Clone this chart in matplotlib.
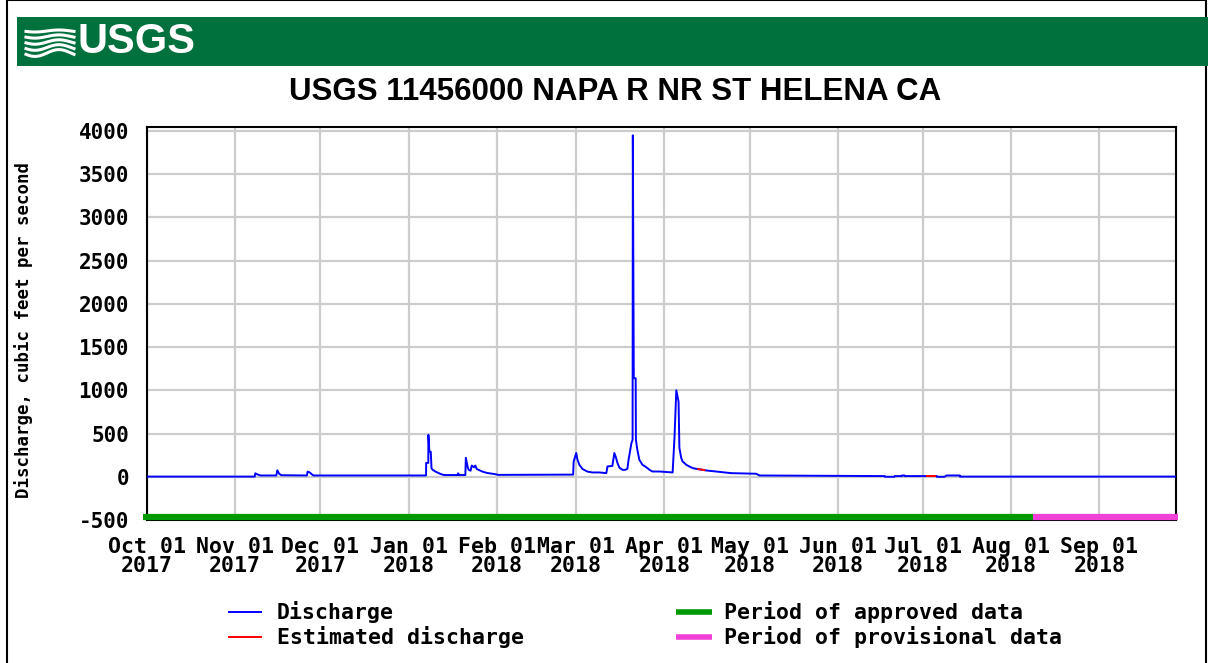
import numpy as np
import pandas as pd
import matplotlib
matplotlib.use('Agg')
import matplotlib.pyplot as plt
from matplotlib.patches import Rectangle
from matplotlib.lines import Line2D

station_title = 'USGS 11456000 NAPA R NR ST HELENA CA'
y_label = 'Discharge, cubic feet per second'

flow_times = [
    '2017-10-01 00:00', '2017-11-07 22:00', '2017-11-08 02:00', '2017-11-09 00:00',
    '2017-11-10 00:00', '2017-11-15 12:00', '2017-11-15 20:00', '2017-11-16 12:00',
    '2017-11-17 06:00', '2017-11-26 06:00', '2017-11-26 12:00', '2017-11-27 06:00',
    '2017-11-27 18:00', '2017-11-28 12:00', '2018-01-07 04:00', '2018-01-07 05:00',
    '2018-01-07 23:00', '2018-01-08 00:00', '2018-01-08 08:00', '2018-01-08 20:00',
    '2018-01-09 02:00', '2018-01-09 12:00', '2018-01-10 18:00', '2018-01-12 12:00',
    '2018-01-13 12:00', '2018-01-18 06:00', '2018-01-18 12:00', '2018-01-18 18:00',
    '2018-01-21 00:00', '2018-01-21 04:00', '2018-01-21 20:00', '2018-01-22 04:00',
    '2018-01-22 20:00', '2018-01-23 06:00', '2018-01-24 00:00', '2018-01-24 12:00',
    '2018-01-25 00:00', '2018-01-26 00:00', '2018-01-27 00:00', '2018-01-28 12:00',
    '2018-01-31 12:00', '2018-02-01 12:00', '2018-02-27 22:00', '2018-02-28 02:00',
    '2018-03-01 00:00', '2018-03-01 10:00', '2018-03-02 02:00', '2018-03-03 05:00',
    '2018-03-04 22:00', '2018-03-06 17:00', '2018-03-09 05:00', '2018-03-11 14:00',
    '2018-03-12 00:00', '2018-03-13 17:00', '2018-03-14 10:00', '2018-03-15 00:00',
    '2018-03-15 12:00', '2018-03-16 05:00', '2018-03-17 07:00', '2018-03-18 06:00',
    '2018-03-19 00:00', '2018-03-19 10:00', '2018-03-20 10:00', '2018-03-20 20:00',
    '2018-03-20 22:00', '2018-03-21 06:00', '2018-03-21 22:00', '2018-03-22 00:00',
    '2018-03-22 12:00', '2018-03-23 05:00', '2018-03-24 07:00', '2018-03-25 14:00',
    '2018-03-26 19:00', '2018-03-27 19:00', '2018-03-30 07:00', '2018-04-03 22:00',
    '2018-04-04 14:00', '2018-04-05 05:00', '2018-04-06 00:00', '2018-04-06 07:00',
    '2018-04-06 22:00', '2018-04-07 10:00', '2018-04-08 17:00', '2018-04-09 19:00',
    '2018-04-11 00:00', '2018-04-12 17:00', '2018-04-14 10:00', '2018-04-15 17:00',
    '2018-04-19 05:00', '2018-04-24 12:00', '2018-05-03 07:00', '2018-05-04 12:00',
    '2018-06-17 12:00', '2018-06-17 14:00', '2018-06-21 00:00', '2018-06-21 02:00',
    '2018-06-23 12:00', '2018-06-23 14:00', '2018-06-24 12:00', '2018-06-24 14:00',
    '2018-07-05 19:00', '2018-07-05 21:00', '2018-07-08 14:00', '2018-07-09 07:00',
    '2018-07-13 22:00', '2018-07-14 00:00', '2018-09-28 12:00',
]
flow_cfs = [
    2, 2, 40, 25,
    15, 15, 75, 35,
    18, 15, 60, 50,
    35, 15, 15, 160,
    160, 485, 290, 290,
    100, 80, 55, 30,
    20, 20, 40, 20,
    20, 220, 110, 80,
    70, 130, 110, 130,
    90, 75, 60, 45,
    30, 22, 25, 175,
    275, 200, 140, 90,
    60, 50, 50, 42,
    120, 125, 275, 220,
    160, 105, 80, 80,
    92, 196, 390, 427,
    3950, 1140, 1140, 427,
    312, 196, 139, 112,
    80, 61, 61, 50,
    465, 1000, 870, 335,
    220, 177, 139, 119,
    100, 89, 81, 73,
    61, 42, 35, 15,
    8, 0, 0, 8,
    8, 15, 15, 8,
    8, 0, 0, 15,
    15, 2, 2,
]

# estimated discharge segments
est1_times = ['2018-04-12 22:00', '2018-04-14 10:00', '2018-04-15 02:00']
est1_cfs = [88, 81, 77]
est2_times = ['2018-07-02 07:00', '2018-07-05 02:00']
est2_cfs = [8, 8]

# approval periods
approved_span = ['2017-09-29 18:00', '2018-08-08 14:00']
provisional_span = ['2018-08-08 14:00', '2018-09-28 17:00']
period_level = -460

x_range = ['2017-10-01 00:00', '2018-09-28 00:00']
y_range = [-500, 4046]
y_ticks = [-500, 0, 500, 1000, 1500, 2000, 2500, 3000, 3500, 4000]
month_starts = pd.date_range('2017-10-01', '2018-09-01', freq='MS')

# --- figure ---
W, H = 1208, 663
fig = plt.figure(figsize=(W / 100, H / 100), dpi=100)
mono = 'DejaVu Sans Mono'


def fx(x):
    return x / W


def fy(y):
    return 1 - y / H


# outer frame and banner
fig.patches.append(Rectangle((fx(7), fy(700)), fx(1199), 700 / H, transform=fig.transFigure,
                             fill=False, edgecolor='black', lw=1.5))
fig.patches.append(Rectangle((fx(17), fy(66)), fx(1208 - 17), 49 / H, transform=fig.transFigure,
                             facecolor='#00703C', edgecolor='none'))

# wave icon of the logo
xs = np.linspace(26, 74, 60)
for i in range(5):
    amp = 1.0 + 0.6 * i
    ys = 31 + i * 5.5 + amp * np.sin((xs - 26) / 48 * 2 * np.pi + 0.4)
    fig.lines.append(Line2D(fx(xs), fy(ys), transform=fig.transFigure, color='white', lw=2.2))
fig.text(fx(77), fy(42), 'USGS', color='white', fontsize=30, fontweight='bold',
         family='Liberation Sans', ha='left', va='center')

fig.text(fx(615), fy(92), station_title, fontsize=22.5, fontweight='bold',
         family='Liberation Sans', ha='center', va='center')

# --- axes ---
ax = fig.add_axes([fx(147), fy(520), (1176 - 147) / W, (520 - 127) / H])
t = pd.to_datetime(flow_times)
ax.plot(t, flow_cfs, color='#0000FF', lw=1.4, zorder=3)
ax.plot(pd.to_datetime(est1_times), est1_cfs, color='#FF0000', lw=1.4, zorder=4)
ax.plot(pd.to_datetime(est2_times), est2_cfs, color='#FF0000', lw=1.4, zorder=4)

ax.plot(pd.to_datetime(approved_span), [period_level] * 2, color='#009900', lw=4.5,
        solid_capstyle='butt', clip_on=False, zorder=5)
ax.plot(pd.to_datetime(provisional_span), [period_level] * 2, color='#F040D8', lw=4.5,
        solid_capstyle='butt', clip_on=False, zorder=5)

ax.set_xlim(pd.to_datetime(x_range))
ax.set_ylim(y_range)
ax.set_yticks(y_ticks)
ax.set_yticklabels([str(v) for v in y_ticks], family=mono, fontweight='bold', fontsize=15)
ax.set_xticks(month_starts)
ax.set_xticklabels([f"{d.strftime('%b')} 01\n{d.year}" for d in month_starts],
                   family=mono, fontweight='bold', fontsize=15.5, linespacing=0.93)
ax.tick_params(axis='both', length=0)
ax.tick_params(axis='y', pad=13)
ax.tick_params(axis='x', pad=12)
ax.grid(True, color='#CCCCCC', lw=1.6, zorder=0)
ax.set_axisbelow(True)
for s in ax.spines.values():
    s.set_linewidth(1.5)
    s.set_color('black')

ax.set_ylabel(y_label, family=mono, fontweight='bold', fontsize=12.5)
ax.yaxis.set_label_coords((33 - 147) / 1029, (520 - 330) / 393)

# --- legend ---
legend_items = [
    (228, 262, 612, '#0000FF', 1.4, 277, 'Discharge'),
    (228, 262, 637, '#FF0000', 1.4, 277, 'Estimated discharge'),
    (676, 712, 612, '#009900', 4.0, 724, 'Period of approved data'),
    (676, 712, 637, '#F040D8', 4.0, 724, 'Period of provisional data'),
]
for x0, x1, yy, col, lw, tx, label in legend_items:
    fig.lines.append(Line2D([fx(x0), fx(x1)], [fy(yy), fy(yy)], transform=fig.transFigure,
                            color=col, lw=lw, solid_capstyle='butt'))
    fig.text(fx(tx), fy(yy), label, family=mono, fontweight='bold', fontsize=15.5,
             ha='left', va='center')

fig.savefig('out.png', dpi=100)
